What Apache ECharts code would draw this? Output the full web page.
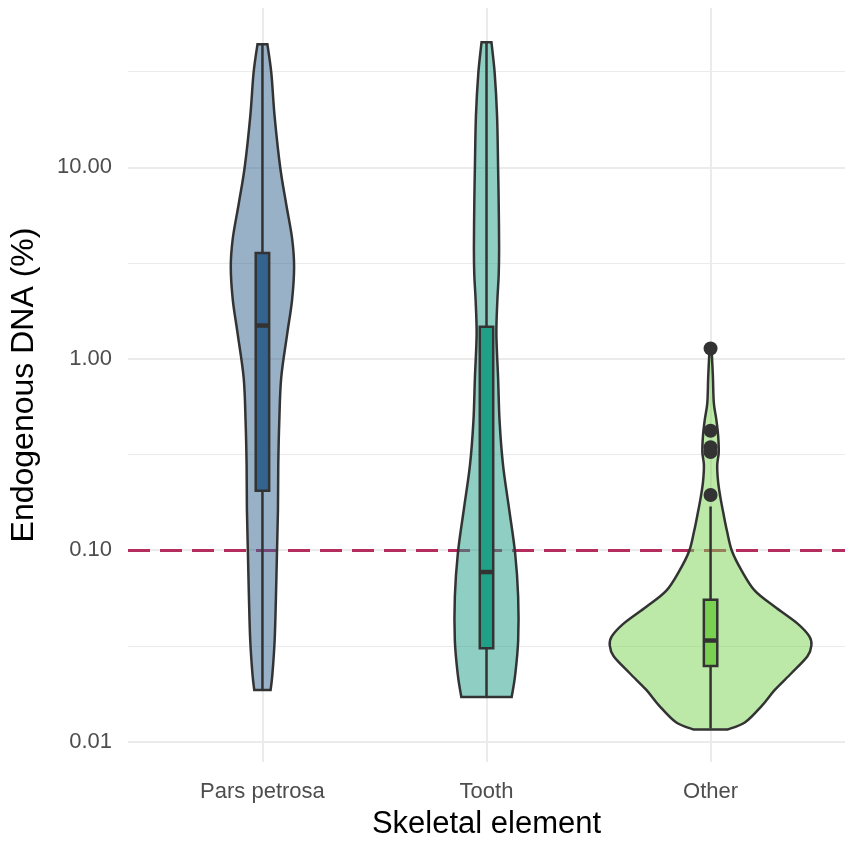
<!DOCTYPE html>
<html>
<head>
<meta charset="utf-8">
<script src="https://cdn.jsdelivr.net/npm/echarts@6/dist/echarts.min.js"></script>
<style>
  html, body { margin: 0; padding: 0; background: #ffffff; }
  #chart { width: 845px; height: 845px; }
</style>
</head>
<body>
<div id="chart"></div>
<script>
// Skeletal element categories (x axis)
const categories = ['Pars petrosa', 'Tooth', 'Other'];

// Box statistics (%): lower whisker, Q1, median, Q3, upper whisker
const parsBox = [0.0186, 0.204, 1.49, 3.56, 43.9];
const toothBox = [0.0171, 0.0307, 0.0768, 1.47, 45.0];
const otherBox = [0.0117, 0.0248, 0.0337, 0.055, 0.169];

// Outlying samples beyond the whiskers (%)
const otherOutliers = [1.13, 0.42, 0.345, 0.325, 0.194];

// Violin outlines: sample levels (%) from top to bottom and relative density (1 = widest)
const parsLevels = [43.9, 31.1, 18.4, 10.0, 6.45, 4.25, 3.01, 2.03, 1.34, 0.793, 0.469, 0.278, 0.163, 0.0963, 0.057, 0.0337, 0.0222, 0.0186];
const parsDensity = [0.049, 0.088, 0.121, 0.176, 0.235, 0.294, 0.314, 0.294, 0.245, 0.186, 0.167, 0.157, 0.154, 0.144, 0.134, 0.121, 0.098, 0.081];

const toothLevels = [45.0, 31.1, 18.4, 10.0, 6.45, 3.77, 2.74, 2.03, 1.34, 0.793, 0.469, 0.278, 0.163, 0.0963, 0.057, 0.0337, 0.0222, 0.0171];
const toothDensity = [0.049, 0.081, 0.105, 0.115, 0.121, 0.125, 0.121, 0.108, 0.098, 0.115, 0.130, 0.164, 0.225, 0.284, 0.314, 0.314, 0.284, 0.25];

const otherLevels = [1.13, 0.812, 0.589, 0.486, 0.397, 0.324, 0.278, 0.227, 0.188, 0.153, 0.125, 0.0986, 0.0777, 0.0612, 0.0506, 0.0413, 0.0354, 0.0318, 0.0279, 0.0228, 0.0186, 0.0154, 0.0126, 0.01155];
const otherDensity = [0.01, 0.023, 0.032, 0.056, 0.075, 0.081, 0.066, 0.075, 0.098, 0.130, 0.164, 0.213, 0.311, 0.441, 0.637, 0.863, 0.980, 1.0, 0.961, 0.804, 0.637, 0.510, 0.343, 0.167];

// Detection threshold (%)
const thresholdValue = [0.1];

// Y axis tick values (%)
const majorTicks = [0.01, 0.1, 1, 10];
const minorTicks = [0.0316, 0.316, 3.16, 31.6];

// Fill colours per element
const boxColors = ['#33638f', '#20a087', '#7ad151'];
const violinColors = ['rgba(51,99,143,0.5)', 'rgba(32,160,135,0.5)', 'rgba(122,209,81,0.5)'];

const boxes = [parsBox, toothBox, otherBox];
const levels = [parsLevels, toothLevels, otherLevels];
const densities = [parsDensity, toothDensity, otherDensity];

const lg = v => Math.log10(v);
const VIOLIN_HALF = 0.45;   // half of the widest violin, in category units
const BOX_HALF = 0.03;
const INK = '#333333';
const FONT = '"Liberation Sans", Arial, sans-serif';

// Smooth open curve through pixel points (Catmull-Rom as cubic Beziers)
function curveSegments(pts) {
  let d = '';
  for (let k = 0; k < pts.length - 1; k++) {
    const p0 = pts[Math.max(k - 1, 0)], p1 = pts[k], p2 = pts[k + 1], p3 = pts[Math.min(k + 2, pts.length - 1)];
    const c1 = [p1[0] + (p2[0] - p0[0]) / 6, p1[1] + (p2[1] - p0[1]) / 6];
    const c2 = [p2[0] - (p3[0] - p1[0]) / 6, p2[1] - (p3[1] - p1[1]) / 6];
    d += ' C' + c1[0] + ',' + c1[1] + ' ' + c2[0] + ',' + c2[1] + ' ' + p2[0] + ',' + p2[1];
  }
  return d;
}

function renderViolin(params, api) {
  const i = params.dataIndex;
  const x = api.value(0);
  const lv = levels[i], dn = densities[i];
  const right = lv.map((v, k) => api.coord([x + VIOLIN_HALF * dn[k], lg(v)]));
  const left = lv.map((v, k) => api.coord([x - VIOLIN_HALF * dn[k], lg(v)])).reverse();
  let d = 'M' + right[0][0] + ',' + right[0][1] + curveSegments(right);
  d += ' L' + left[0][0] + ',' + left[0][1] + curveSegments(left) + ' Z';
  return {
    type: 'path',
    shape: { pathData: d },
    style: { fill: violinColors[i], stroke: INK, lineWidth: 2.5, lineJoin: 'miter' }
  };
}

function renderBox(params, api) {
  const i = params.dataIndex;
  const x = api.value(0);
  const b = boxes[i];
  const lo = api.coord([x, lg(b[0])]);
  const hi = api.coord([x, lg(b[4])]);
  const q1 = api.coord([x - BOX_HALF, lg(b[1])]);
  const q3 = api.coord([x + BOX_HALF, lg(b[3])]);
  const md = api.coord([x, lg(b[2])]);
  return {
    type: 'group',
    children: [
      { type: 'line', shape: { x1: lo[0], y1: lo[1], x2: hi[0], y2: hi[1] },
        style: { stroke: INK, lineWidth: 2.5 } },
      { type: 'rect', shape: { x: q1[0], y: q3[1], width: q3[0] - q1[0], height: q1[1] - q3[1] },
        style: { fill: boxColors[i], stroke: INK, lineWidth: 2.5 } },
      { type: 'line', shape: { x1: q1[0], y1: md[1], x2: q3[0], y2: md[1] },
        style: { stroke: INK, lineWidth: 4.5 } }
    ]
  };
}

const gridMarks = []
  .concat(majorTicks.map(v => ({ yAxis: lg(v), lineStyle: { color: '#ebebeb', width: 2, type: 'solid' } })))
  .concat(minorTicks.map(v => ({ yAxis: lg(v), lineStyle: { color: '#ebebeb', width: 1.2, type: 'solid' } })))
  .concat(categories.map((c, i) => ({ xAxis: i + 1, lineStyle: { color: '#ebebeb', width: 2, type: 'solid' } })));

const chart = echarts.init(document.getElementById('chart'), null, { renderer: 'canvas' });
chart.setOption({
  animation: false,
  backgroundColor: '#ffffff',
  grid: { left: 126, right: -6, top: 8, bottom: 75, containLabel: false },
  xAxis: {
    type: 'value',
    min: 0.4,
    max: 3.6,
    name: 'Skeletal element',
    nameLocation: 'middle',
    nameGap: 47,
    nameTextStyle: { fontFamily: FONT, fontSize: 31, color: '#000000' },
    axisLine: { show: false },
    axisTick: { show: false },
    splitLine: { show: false },
    axisLabel: {
      customValues: [1, 2, 3],
      formatter: v => categories[Math.round(v) - 1] || '',
      fontFamily: FONT, fontSize: 22, color: '#4d4d4d', margin: 19
    }
  },
  yAxis: {
    type: 'value',
    min: -2.107,
    max: 1.832,
    name: 'Endogenous DNA (%)',
    nameLocation: 'middle',
    nameGap: 88,
    nameRotate: 90,
    nameTextStyle: { fontFamily: FONT, fontSize: 32, color: '#000000' },
    axisLine: { show: false },
    axisTick: { show: false },
    splitLine: { show: false },
    axisLabel: {
      customValues: majorTicks.map(lg),
      formatter: v => Math.pow(10, v).toFixed(2),
      fontFamily: FONT, fontSize: 22, color: '#4d4d4d', margin: 16,
      padding: [10, 0, 0, 0]
    }
  },
  series: [
    {
      type: 'line', data: [], silent: true, z: 0,
      markLine: { silent: true, symbol: 'none', z: 0, label: { show: false }, data: gridMarks }
    },
    {
      type: 'line', data: [], silent: true, z: 1,
      markLine: {
        silent: true, symbol: 'none', z: 1, label: { show: false },
        data: thresholdValue.map(v => ({ yAxis: lg(v) })),
        lineStyle: { color: '#b52d5e', width: 2.8, type: [22, 10] }
      }
    },
    {
      type: 'custom', z: 2, silent: true,
      renderItem: renderViolin,
      data: categories.map((c, i) => [i + 1]),
      encode: { x: 0 }
    },
    {
      type: 'custom', z: 3, silent: true,
      renderItem: renderBox,
      data: categories.map((c, i) => [i + 1]),
      encode: { x: 0 }
    },
    {
      type: 'scatter', z: 4, silent: true,
      symbolSize: 14,
      itemStyle: { color: INK, opacity: 1 },
      data: otherOutliers.map(v => [3, lg(v)])
    }
  ]
});
</script>
</body>
</html>
